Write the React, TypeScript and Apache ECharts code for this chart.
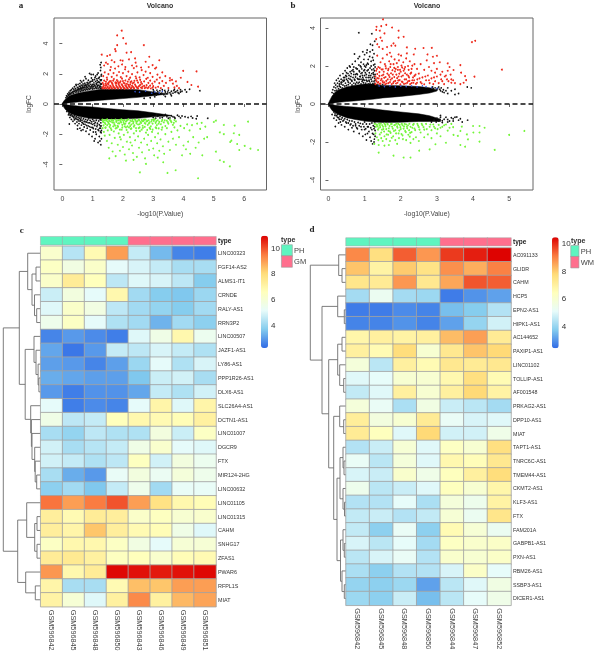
import React, { useEffect, useRef } from "react";
import * as echarts from "echarts";

const FONT = "'Liberation Sans', Arial, sans-serif";
const NARROW = "'Liberation Sans Narrow', 'Liberation Sans', Arial, sans-serif";

// ---- Volcano a ----
const aWedgeUp = [[0,.05,-.03],[.05,.2,.02],[.1,.32,.04],[.2,.5,.07],[.3,.6,.09],[.5,.72,.13],[.7,.8,.16],[1,.9,.2],[1.3,.98,.25],[1.6,.98,.3],[2,.98,.36],[2.5,.95,.44],[3,.8,.55],[3.3,.72,.62],[3.5,.68,.66]];
const aWedgeDown = [[0,-.05,.03],[.05,-.22,-.02],[.1,-.36,-.04],[.2,-.54,-.07],[.3,-.66,-.09],[.5,-.8,-.13],[.7,-.88,-.16],[1,-.98,-.2],[1.3,-1,-.26],[1.6,-1,-.32],[2,-1,-.38],[2.5,-.95,-.45],[3,-.85,-.58],[3.4,-.8,-.7],[3.6,-.8,-.76]];
const aBlack = [.12,.42,.14,.55,.16,.48,.18,.68,.2,.58,.22,.78,.24,.62,.26,.88,.28,.72,.3,.95,.32,.78,.34,1.05,.36,.85,.38,.98,.4,1.15,.42,.88,.44,1.02,.46,1.22,.48,.92,.5,1.1,.52,1.3,.54,.98,.56,1.18,.58,1.36,.6,1.02,.62,1.25,.64,1.46,.66,1.08,.68,1.32,.7,1.56,.72,1.12,.74,1.38,.76,1.22,.78,1.68,.8,1.15,.82,1.42,.84,1.28,.86,1.58,.88,1.18,.9,2.02,.92,1.48,.94,1.3,.96,1.72,.98,1.2,1,1.52,1.02,1.95,1.04,1.28,1.06,1.62,1.08,1.18,1.1,1.85,1.12,1.38,1.14,1.68,1.16,1.22,1.18,2.05,1.2,1.48,1.22,1.78,1.24,1.2,1.26,2.22,1.27,1.55,1.28,2.75,1.29,1.95,1.25,2.6,1.27,2.42,1.29,1.32,1.15,1.95,.95,1.95,.75,1.8,.6,1.55,.45,1.3,
3,.95,3.1,.6,3.15,.82,3.2,.7,3.3,.95,3.35,.62,3.4,.8,3.45,.68,3.5,.92,3.55,.75,3.6,.85,3.65,.72,3.7,.98,3.75,.82,3.8,.9,3.85,.7,3.9,.95,3.95,.85,4.05,.95,4.1,.8,4.2,.98,4.54,.88,3.4,.5,3.6,.55,3.05,.48,2.9,.42,2.7,.38,
.15,-.5,.2,-.72,.22,-.6,.25,-.9,.28,-.75,.3,-1.02,.33,-.82,.35,-1.15,.38,-.92,.4,-1.05,.42,-1.3,.45,-.98,.48,-1.2,.5,-1.42,.52,-1.05,.55,-1.3,.58,-1.6,.6,-1.12,.63,-1.4,.65,-1.22,.68,-1.7,.7,-1.32,.72,-1.52,.75,-1.18,.78,-1.8,.8,-1.42,.82,-1.6,.85,-1.25,.88,-2,.9,-1.5,.92,-1.72,.95,-1.3,.98,-2.15,1,-1.55,1.02,-1.85,1.05,-1.3,1.08,-2.3,1.1,-1.65,1.12,-2,1.15,-1.4,1.18,-2.55,1.2,-1.75,1.22,-2.15,1.25,-1.45,1.27,-2.7,1.28,-1.9,1.29,-2.3,1.26,-1.6,1.24,-2.45,1.05,-2.45,.62,-1.75,.5,-1.65,.23,-1.32,
3.1,-.75,3.3,-.9,3.4,-.7,3.5,-.95,3.6,-.78,3.7,-.88,3.8,-.75,3.9,-.92,4.05,-.85,4.15,-.9,4.25,-.82,4.42,-.98,4.45,-.8,4.3,-.93,4.8,-.95,3.95,-.8];
const aBlackDense = [.2,.62,.25,.7,.28,.66,.32,.74,.35,.8,.37,.7,.4,.82,.43,.92,.45,.78,.47,.86,.5,.95,.52,.8,.53,1.05,.55,.88,.57,1,.6,.85,.6,1.12,.62,.95,.63,1.05,.65,.88,.66,1.2,.68,1,.7,.9,.7,1.1,.72,1.25,.74,.98,.75,1.08,.77,.92,.78,1.3,.8,1,.8,1.2,.82,1.1,.84,.95,.85,1.38,.87,1.05,.88,1.25,.9,.98,.9,1.4,.92,1.12,.94,1.02,.95,1.5,.96,1.2,.98,1.08,1,1,1,1.3,1,1.6,1.02,1.15,1.04,1.4,1.05,1.02,1.07,1.25,1.08,1.75,1.1,1.1,1.1,1.5,1.12,1.05,1.13,1.3,1.15,1.15,1.15,1.55,1.17,1.42,1.18,1.05,1.2,1.25,1.2,1.7,1.22,1.12,1.23,1.42,1.25,1.05,1.25,1.6,1.26,1.32,1.27,1.15,1.28,1.85,1.29,1.05,1.29,1.6,
.22,-.66,.26,-.74,.3,-.7,.34,-.8,.37,-.86,.4,-.78,.43,-.95,.46,-.85,.49,-1.02,.52,-.9,.55,-1.12,.57,-.95,.6,-1.02,.62,-.92,.65,-1.08,.67,-1.25,.7,-.98,.72,-1.15,.75,-1.35,.77,-1.02,.8,-1.2,.83,-1.08,.85,-1.45,.87,-.98,.9,-1.25,.92,-1.1,.95,-1.55,.97,-1.18,1,-1.02,1,-1.35,1.02,-1.62,1.04,-1.12,1.07,-1.42,1.09,-1.22,1.1,-1.85,1.12,-1.08,1.14,-1.5,1.16,-1.28,1.18,-1.7,1.2,-1.12,1.22,-1.38,1.23,-1.6,1.25,-1.05,1.26,-1.85,1.27,-1.25,1.28,-1.45,1.29,-1.05,1.29,-1.75,
3.02,.85,3.12,.92,3.22,.88,3.28,.72,3.38,.9,3.48,.8,3.58,.65,3.68,.9,3.72,.78,3.82,.75,3.9,.8,
3,-.9,3.08,-.95,3.15,-.82,3.22,-.92,3.35,-.78,3.45,-.85,3.55,-.92,3.65,-.85,3.72,-.95,3.85,-.82];
const aRed = [1.96,4.86,1.81,4.55,2.01,4.37,2.1,4,1.81,3.9,2.69,3.9,1.74,3.64,1.76,3.5,2.27,3.44,2.12,3.4,2.87,3.13,1.3,3.27,1.57,3.25,1.48,3.18,1.92,2.9,1.99,2.87,2.4,3.02,2.2,2.96,3.2,2.9,2.75,2.8,1.63,2.9,1.44,2.74,2.42,2.74,2.98,2.58,3.99,2.2,4.43,2.16,3.91,1.74,4.13,1.46,4.26,1.26,4.48,1.15,
1.32,1.05,1.36,1.18,1.41,1.08,1.45,1.25,1.5,1.1,1.54,1.02,1.58,1.2,1.62,1.06,1.66,1.28,1.7,1.12,1.74,1.03,1.78,1.22,1.82,1.09,1.86,1.31,1.9,1.14,1.94,1.04,1.98,1.24,2.02,1.1,2.06,1.02,2.1,1.19,2.14,1.07,2.18,1.27,2.22,1.13,2.26,1.03,2.3,1.2,2.35,1.08,2.4,1.29,2.45,1.12,2.5,1.04,2.55,1.22,2.6,1.09,2.65,1.16,2.72,1.05,2.78,1.25,2.85,1.12,2.92,1.03,3,1.18,3.08,1.08,3.16,1.14,3.25,1.05,3.35,1.2,3.5,1.06,3.7,1.1,3.85,1.05,
1.33,1.4,1.38,1.55,1.43,1.35,1.48,1.62,1.53,1.42,1.6,1.52,1.65,1.36,1.7,1.66,1.75,1.44,1.8,1.58,1.85,1.38,1.92,1.5,1.97,1.68,2.03,1.4,2.08,1.56,2.13,1.33,2.2,1.63,2.25,1.45,2.32,1.37,2.38,1.54,2.44,1.7,2.5,1.42,2.57,1.6,2.63,1.34,2.7,1.5,2.77,1.67,2.84,1.4,2.9,1.55,2.97,1.35,3.05,1.48,3.12,1.62,3.2,1.38,3.3,1.52,3.42,1.4,3.55,1.56,3.65,1.35,3.75,1.5,3.78,1.2,3.62,1.6,
1.35,1.85,1.4,2.1,1.47,1.75,1.52,1.98,1.58,2.25,1.63,1.8,1.69,2.05,1.74,2.35,1.8,1.9,1.87,2.12,1.93,1.78,2,2.05,2.07,2.3,2.12,1.85,2.18,2.15,2.24,1.75,2.3,1.98,2.36,2.38,2.42,1.82,2.48,2.1,2.55,1.76,2.62,2.25,2.68,1.92,2.75,2.15,2.82,1.74,2.9,2.05,2.98,1.8,3.06,2.35,3.14,1.95,3.22,1.75,3.3,2.1,3.4,1.85,3.55,1.72,
1.38,2.55,1.5,2.65,1.6,2.45,1.72,2.78,1.85,2.5,1.97,2.62,2.08,2.45,2.3,2.55,2.45,2.5,2.6,2.42,2.85,2.45,3.1,2.42,
1.34,1.12,1.38,1.03,1.42,1.22,1.46,1.04,1.49,1.16,1.52,1.3,1.56,1.08,1.6,1.16,1.64,1.03,1.68,1.18,1.72,1.06,1.76,1.34,1.8,1.14,1.84,1.04,1.88,1.2,1.92,1.08,1.96,1.3,2,1.16,2.04,1.04,2.08,1.24,2.12,1.12,2.16,1.03,2.2,1.18,2.24,1.3,2.28,1.07,2.33,1.14,2.37,1.03,2.42,1.2,2.47,1.07,2.52,1.16,2.58,1.28,2.63,1.05,2.7,1.2,2.76,1.1,2.82,1.05,2.9,1.22,2.98,1.08,
1.36,1.3,1.44,1.48,1.5,1.36,1.56,1.5,1.63,1.42,1.68,1.55,1.78,1.4,1.83,1.5,1.9,1.42,2,1.52,2.06,1.36,2.16,1.48,2.28,1.5,2.36,1.42,2.47,1.55,2.6,1.45];
const aGreen = [4.48,-4.92,2.56,-4.53,3.47,-4.57,3.74,-4.39,2.76,-3.97,3.33,-3.86,5.53,-4.13,5.33,-3.84,5.2,-3.73,6.46,-3.05,6.21,-2.96,6.02,-2.78,5.77,-2.65,5.84,-3.05,5.58,-2.43,5.54,-2.52,5.66,-1.94,5.84,-2.05,5.69,-1.43,6.13,-1.17,5.33,-2,5.2,-1.88,5.33,-1.39,5.07,-1.1,5,-1.19,5.07,-3.16,
1.32,-1.04,1.35,-1.2,1.38,-1.08,1.42,-1.32,1.45,-1.1,1.48,-1.02,1.52,-1.25,1.55,-1.12,1.58,-1.4,1.62,-1.05,1.65,-1.22,1.68,-1.1,1.72,-1.35,1.75,-1.03,1.78,-1.18,1.82,-1.45,1.85,-1.08,1.88,-1.28,1.92,-1.14,1.95,-1.02,1.98,-1.38,2.02,-1.2,2.05,-1.06,2.08,-1.3,2.12,-1.12,2.15,-1.48,2.18,-1.02,2.22,-1.24,2.25,-1.1,2.28,-1.36,2.32,-1.05,2.35,-1.18,2.38,-1.42,2.42,-1.08,2.45,-1.28,2.48,-1.14,2.52,-1.04,2.55,-1.34,2.58,-1.2,2.62,-1.06,2.65,-1.44,2.68,-1.12,2.72,-1.26,2.75,-1.03,2.78,-1.16,2.82,-1.38,2.85,-1.08,2.88,-1.22,2.92,-1.48,2.95,-1.05,2.98,-1.3,3.02,-1.12,3.05,-1.02,3.08,-1.25,3.12,-1.4,3.15,-1.08,3.2,-1.18,3.25,-1.34,3.3,-1.05,3.35,-1.22,3.4,-1.46,3.45,-1.1,3.5,-1.3,3.55,-1.04,3.6,-1.2,3.65,-1.38,3.7,-1.06,3.75,-1.15,
1.33,-1.6,1.37,-1.85,1.4,-2.1,1.43,-1.55,1.47,-2.45,1.5,-1.75,1.53,-2.9,1.56,-2.05,1.6,-1.62,1.63,-2.6,1.66,-3.15,1.7,-1.82,1.73,-2.25,1.76,-3.45,1.8,-1.58,1.83,-2.7,1.86,-1.95,1.9,-3.1,1.93,-2.35,1.96,-1.7,2,-2.85,2.03,-2.05,2.06,-3.35,2.1,-1.55,2.13,-2.5,2.16,-1.88,2.2,-3,2.23,-2.2,2.26,-1.65,2.3,-2.75,2.33,-3.25,2.36,-1.95,2.4,-2.4,2.43,-1.6,2.46,-3.5,2.5,-2.15,2.53,-2.9,2.56,-1.8,2.6,-2.55,2.63,-3.2,2.66,-1.58,2.7,-2.3,2.73,-3.6,2.76,-1.9,2.8,-2.7,2.83,-2.05,2.86,-3.05,2.9,-1.65,2.93,-2.45,2.96,-1.85,3,-2.95,3.03,-3.4,3.06,-2.2,3.1,-1.6,3.13,-2.6,3.16,-1.95,3.2,-3.1,3.24,-2.35,3.28,-1.7,3.32,-2.8,3.36,-3.3,3.4,-2,3.45,-1.6,3.5,-2.5,3.55,-3.05,3.6,-1.85,3.65,-2.3,3.7,-1.55,3.75,-2.7,3.8,-1.75,3.85,-2.2,3.9,-1.45,3.95,-3.4,4,-2.75,4.02,-1.6,4.08,-3,4.12,-1.35,4.15,-2.5,4.2,-1.75,4.22,-3.3,4.28,-1.4,4.32,-2.2,4.4,-2.9,4.45,-1.3,4.5,-2.55,4.55,-1.65,4.62,-3.4,4.68,-2.3,4.72,-1.5,4.78,-2.2,4.6,-1.25,1.55,-3.6,2.1,-3.75,2.35,-3.7,3.15,-3.55,2.55,-1.55,2.25,-2.55,1.9,-2.2,
1.34,-1.14,1.4,-1.24,1.44,-1.05,1.5,-1.16,1.54,-1.32,1.6,-1.16,1.64,-1.06,1.7,-1.24,1.74,-1.44,1.8,-1.1,1.84,-1.28,1.9,-1.05,1.94,-1.22,2,-1.08,2.04,-1.32,2.1,-1.16,2.14,-1.06,2.2,-1.3,2.24,-1.46,2.3,-1.14,2.34,-1.28,2.4,-1.04,2.44,-1.18,2.5,-1.36,2.54,-1.08,2.6,-1.26,2.64,-1.14,2.7,-1.04,2.74,-1.3,2.8,-1.12,2.86,-1.28,2.94,-1.16,3,-1.04,3.1,-1.14,3.18,-1.3,3.28,-1.14,3.38,-1.08,3.48,-1.2,3.58,-1.12,3.68,-1.25,
1.36,-1.42,1.42,-1.58,1.48,-1.4,1.56,-1.52,1.62,-1.72,1.68,-1.48,1.76,-1.62,1.84,-1.5,1.9,-1.7,1.98,-1.55,2.06,-1.48,2.12,-1.72,2.2,-1.55,2.28,-1.62,2.36,-1.5,2.44,-1.78,2.52,-1.6,2.62,-1.7,2.72,-1.52,2.8,-1.72,2.88,-1.58,2.98,-1.7,3.08,-1.55,3.18,-1.62,3.3,-1.55];
const aBlue = [2.4,.82,2.55,.78,2.75,.86,2.95,.72,3.05,.8,3.2,.74,3.3,.84];

// ---- Volcano b ----
const bWedgeUp = [[0,.04,-.02],[.05,.24,.02],[.1,.42,.04],[.2,.64,.07],[.3,.76,.09],[.5,.9,.13],[.7,.98,.16],[1,1.05,.21],[1.27,1.05,.26],[1.5,.98,.32],[2,.96,.4],[2.5,.92,.5],[2.8,.85,.58],[3,.74,.68]];
const bWedgeDown = [[0,-.04,.02],[.05,-.2,-.02],[.1,-.34,-.04],[.2,-.48,-.07],[.3,-.58,-.09],[.5,-.72,-.13],[.7,-.8,-.16],[1,-.9,-.21],[1.27,-.95,-.26],[1.5,-.98,-.32],[2,-.96,-.42],[2.5,-.92,-.52],[2.8,-.92,-.62],[3.1,-.92,-.8]];
const bBlack = [.1,.6,.12,.75,.15,.9,.17,1.1,.2,1,.22,1.25,.25,1.1,.27,1.35,.3,1.2,.32,1.5,.35,1.3,.37,1.15,.4,1.6,.42,1.4,.44,1.25,.46,1.75,.48,1.5,.5,1.3,.52,1.9,.54,1.6,.56,1.35,.58,2,.6,1.7,.62,1.45,.64,1.25,.66,2.1,.68,1.8,.7,1.55,.72,2.63,.72,1.3,.74,2.25,.76,1.9,.78,1.6,.8,1.35,.82,2.4,.84,3.75,.84,2.05,.86,2.5,.86,1.7,.88,1.45,.9,2.2,.92,1.85,.94,1.5,.95,2.75,.96,1.3,.98,2.35,1,2,1.02,1.65,1.04,1.4,1.06,2.7,1.07,2.84,1.08,2.15,1.1,1.8,1.12,1.5,1.14,2.5,1.16,3.15,1.18,2,1.2,3.7,1.2,1.6,1.22,2.85,1.24,2.3,1.25,1.85,1.26,2.65,1.27,1.45,1.28,2.1,1.15,2.75,1.22,2.45,1,2.6,.9,1.6,.75,1.55,.65,1.75,.55,1.15,.45,1.4,.35,1.05,.3,.95,1.05,1.25,1.1,2.35,.95,1.25,.85,1.3,1.29,1.25,1.18,1.3,1.12,1.25,1.28,3.3,1.22,3.1,.98,1.75,.7,1.95,.6,1.95,.5,1.65,.4,1.25,.88,2,.8,1.85,1.05,2.05,1.15,1.4,1.25,1.55,
2.9,.8,3,.75,3.05,.9,3.1,.7,3.15,.65,3.2,.6,3.3,.55,3.4,.7,3.5,.5,3.6,.55,3.84,.9,3.95,.85,3.5,.78,3.3,.85,
.1,-.55,.15,-.75,.18,-.6,.19,-1.19,.22,-.85,.25,-.7,.28,-1,.3,-.8,.33,-.95,.36,-1.1,.4,-.9,.45,-1.2,.5,-1,.55,-1.35,.6,-1.1,.65,-1.25,.7,-1.45,.75,-1.15,.8,-1.3,.85,-1.55,.9,-1.2,.95,-1.7,1,-1.35,1.05,-1.9,1.08,-1.55,1.1,-1.2,1.15,-1.75,1.2,-1.35,1.22,-2.1,1.25,-1.6,1.27,-1.85,1.28,-1.2,1.18,-1.95,1.02,-1.6,1.26,-2,1.29,-1.4,
3,-.75,3.05,-.9,3.1,-.7,3.2,-.8,3.3,-.95,3.4,-.72,3.45,-.9,3.55,-.68,3.6,-.85,3.7,-.95,3.85,-.85,3.1,-.6,3.15,-.98];
const bBlackDense = [.15,.55,.18,.7,.2,.85,.23,.72,.25,.92,.28,.8,.3,1.05,.33,.9,.35,1.15,.38,.85,.4,1,.42,1.2,.45,.95,.47,1.1,.5,1.45,.5,.98,.53,1.22,.55,1.02,.57,1.5,.6,1.1,.6,1.3,.63,1.6,.65,1,.65,1.2,.68,1.4,.7,1.1,.7,1.7,.73,1.25,.75,1.05,.75,1.42,.78,1.15,.78,1.85,.8,1.55,.82,1.1,.82,1.3,.85,1.75,.85,1.15,.87,1.45,.9,1.05,.9,1.3,.9,1.95,.93,1.65,.93,1.18,.95,1.4,.97,1.12,.97,2.1,1,1.25,1,1.5,1,1.8,1.03,1.1,1.03,1.95,1.05,1.55,1.07,1.2,1.07,1.75,1.1,1.4,1.1,1.05,1.1,2.1,1.13,1.65,1.13,1.2,1.15,1.9,1.15,1.1,1.17,1.5,1.18,2.25,1.2,1.2,1.2,1.8,1.22,1.4,1.23,1.08,1.24,1.65,1.25,2.05,1.26,1.2,1.27,1.75,1.28,1.35,1.28,1.1,1.29,1.55,1.29,1.95,
.15,-.42,.18,-.52,.22,-.62,.25,-.55,.28,-.72,.32,-.65,.35,-.8,.38,-.72,.42,-.85,.45,-.78,.48,-.95,.52,-.82,.55,-1,.58,-.88,.62,-1.05,.65,-.9,.68,-1.15,.72,-.95,.75,-1.05,.78,-1.25,.82,-.98,.85,-1.15,.88,-1.02,.92,-1.35,.95,-1.05,.98,-1.2,1,-.95,1.03,-1.3,1.05,-1.05,1.08,-1.2,1.12,-1.45,1.14,-1.05,1.17,-1.25,1.2,-1,1.22,-1.55,1.24,-1.15,1.26,-1.3,1.28,-1,1.29,-1.7,
1.35,.98,1.5,1.02,2.88,.9,2.95,.85,3.02,.82,3.08,.78,3.12,.85,3.18,.75,3.25,.7,
2.85,-.95,2.92,-.85,2.98,-.95,3.08,-.82,3.15,-.88,3.25,-.7,3.3,-.82,3.35,-.9,3.45,-.78,3.5,-.7,3.65,-.78];
const bRed = [1.51,4.46,1.6,4.17,1.76,4.03,1.33,4.07,1.46,4.1,1.94,3.86,1.32,3.9,1.42,3.86,1.55,3.72,2.08,3.54,1.94,3.5,1.44,3.5,1.32,3.42,1.48,3.33,1.8,3.19,1.74,3.07,1.85,3.07,3.97,3.26,4.06,3.33,4.8,1.81,2.86,2.96,2.63,2.95,2.4,2.91,2.17,2.98,2.74,2.61,3,2.54,2.89,2.49,2.36,2.61,2.17,2.67,1.94,2.61,3.3,2.14,3.65,2.05,3.46,1.79,3.67,1.65,3.78,1.47,4.04,1.44,3.81,1.26,3.74,1.12,3.65,1.05,
1.3,1.05,1.33,1.2,1.36,1.12,1.39,1.35,1.42,1.06,1.45,1.25,1.48,1.5,1.51,1.12,1.54,1.38,1.57,1.04,1.6,1.22,1.63,1.6,1.66,1.1,1.69,1.42,1.72,1.28,1.75,1.05,1.78,1.55,1.81,1.18,1.84,1.72,1.87,1.08,1.9,1.36,1.93,1.24,1.96,1.6,1.99,1.03,2.02,1.45,2.05,1.15,2.08,1.75,2.11,1.3,2.14,1.08,2.17,1.55,2.2,1.2,2.23,1.4,2.26,1.05,2.29,1.65,2.32,1.25,2.35,1.12,2.38,1.48,2.42,1.06,2.46,1.3,2.5,1.6,2.55,1.15,2.6,1.4,2.65,1.04,2.7,1.25,2.75,1.5,2.8,1.1,2.85,1.35,2.9,1.05,2.95,1.2,3,1.45,3.05,1.1,3.12,1.3,3.2,1.05,3.25,1.5,3.32,1.2,3.4,1.3,3.45,1.25,3.5,1.1,
1.3,1.45,1.32,1.75,1.35,1.58,1.38,1.95,1.41,1.68,1.44,2.2,1.47,1.82,1.5,2.4,1.53,1.7,1.56,2.1,1.59,1.88,1.62,2.6,1.65,1.78,1.68,2.25,1.71,1.95,1.74,2.5,1.77,1.78,1.8,2.1,1.83,2.35,1.86,1.85,1.89,2.15,1.92,1.95,1.95,2.3,1.98,1.8,2.01,2.55,2.04,1.92,2.07,2.2,2.1,1.85,2.15,2.4,2.2,2,2.25,2.25,2.3,1.85,2.38,2.1,2.45,1.85,2.55,2.1,2.65,1.8,2.72,2.3,2.78,1.95,2.85,1.75,2.92,2.15,3,1.85,3.08,2.2,3.15,1.7,3.22,1.45,3.3,1.75,3.38,1.55,3.35,1.95,3.1,1.55,2.95,1.65,1.35,2.55,1.4,3,1.5,2.9,1.62,3,1.35,3.15,1.7,2.7,
1.31,1.28,1.35,1.36,1.38,1.15,1.41,1.48,1.44,1.08,1.47,1.32,1.5,1.2,1.52,1.55,1.55,1.14,1.58,1.42,1.61,1.08,1.64,1.3,1.67,1.52,1.7,1.15,1.73,1.62,1.76,1.35,1.79,1.1,1.82,1.42,1.85,1.22,1.88,1.55,1.91,1.12,1.94,1.45,1.97,1.26,2,1.7,2.03,1.18,2.06,1.5,2.09,1.06,2.12,1.62,2.15,1.3,2.18,1.12,2.21,1.48,2.24,1.22,2.27,1.6,2.3,1.1,2.34,1.4,2.37,1.25,2.41,1.55,2.45,1.12,2.52,1.35,2.58,1.08,2.68,1.45,2.78,1.25,2.92,1.4,3.15,1.2,3.28,1.3,3.4,1.12,
1.34,1.85,1.42,1.9,1.5,1.82,1.58,2,1.66,1.85,1.72,2.1,1.82,1.9,1.92,1.8,2.02,2.02,2.12,1.95,2.22,1.8,2.32,2.02];
const bGreen = [5.42,-1.42,5,-1.63,4.6,-2.42,4.32,-1.25,4.18,-1.16,4,-1.16,4.18,-1.5,4.18,-1.98,3.78,-2.25,3.65,-2.16,3.83,-1.6,3.86,-1.86,4.01,-1.5,3.69,-1.19,3.65,-1.42,3.46,-1.63,3.58,-1.68,3.25,-2.04,2.96,-2.12,2.8,-2.39,2.51,-2.46,2.27,-2.82,2.08,-2.82,1.8,-2.72,1.39,-2.56,1.39,-2.16,1.55,-2.19,1.67,-2.16,1.27,-2.1,1.9,-2.1,2.27,-2.05,
1.28,-1.05,1.31,-1.2,1.34,-1.1,1.37,-1.35,1.4,-1.04,1.43,-1.22,1.46,-1.5,1.49,-1.12,1.52,-1.32,1.55,-1.03,1.58,-1.18,1.61,-1.6,1.64,-1.08,1.67,-1.28,1.7,-1.45,1.73,-1.06,1.76,-1.2,1.79,-1.7,1.82,-1.12,1.85,-1.38,1.88,-1.04,1.91,-1.25,1.94,-1.55,1.97,-1.1,2,-1.32,2.03,-1.05,2.06,-1.85,2.09,-1.18,2.12,-1.42,2.15,-1.08,2.18,-1.28,2.21,-1.62,2.24,-1.04,2.27,-1.2,2.3,-1.48,2.34,-1.1,2.38,-1.3,2.42,-1.75,2.46,-1.05,2.5,-1.22,2.55,-1.5,2.6,-1.12,2.65,-1.35,2.7,-1.05,2.75,-1.6,2.8,-1.2,2.85,-1.38,2.9,-1.08,2.95,-1.28,3,-1.55,3.05,-1.1,3.1,-1.25,3.2,-1.12,3.3,-1.4,3.4,-1.05,3.45,-1.22,
1.3,-1.55,1.34,-1.75,1.38,-1.9,1.42,-1.6,1.46,-1.8,1.5,-1.95,1.55,-1.7,1.6,-1.85,1.65,-1.62,1.7,-1.95,1.75,-1.78,1.85,-1.9,1.95,-1.8,2.05,-1.65,2.15,-1.9,2.25,-1.72,2.35,-1.85,2.5,-1.95,2.65,-1.75,2.85,-1.8,3.1,-1.7,
1.33,-1.08,1.36,-1.18,1.39,-1.28,1.42,-1.12,1.45,-1.04,1.48,-1.35,1.51,-1.2,1.54,-1.45,1.57,-1.1,1.6,-1.32,1.63,-1.04,1.66,-1.42,1.69,-1.16,1.72,-1.52,1.75,-1.05,1.78,-1.3,1.81,-1.42,1.84,-1.1,1.87,-1.55,1.9,-1.18,1.93,-1.05,1.96,-1.4,1.99,-1.22,2.02,-1.58,2.05,-1.12,2.08,-1.3,2.11,-1.05,2.14,-1.48,2.17,-1.2,2.2,-1.12,2.23,-1.38,2.26,-1.52,2.32,-1.25,2.36,-1.05,2.4,-1.38,2.48,-1.14,2.52,-1.35,2.58,-1.05,2.63,-1.22,2.72,-1.32,2.82,-1.08,2.92,-1.2,3.02,-1.32,3.15,-1.2,3.25,-1.08,3.35,-1.25];
const bBlue = [1.4,.95,1.55,.92,1.7,.96,1.85,.9,2,.94,2.15,.92,2.3,.95,2.45,.9,2.6,.96,2.7,.92,2.85,.88,3,.82];

const yTicksA = [-4, -2, 0, 2, 4];
const yTicksB = [-4, -2, 0, 2, 4];
const xTicksA = [0, 1, 2, 3, 4, 5, 6];
const xTicksB = [0, 1, 2, 3, 4, 5];

// ---- Heatmap c ----
const cRows = ["LINC00323","FGF14-AS2","ALMS1-IT1","CRNDE","RALY-AS1","RRN3P2","LINC00507","JAZF1-AS1","LY86-AS1","PPP1R26-AS1","DLX6-AS1","SLC26A4-AS1","DCTN1-AS1","LINC01007","DGCR9","FTX","MIR124-2HG","LINC00632","LINC01105","LINC01315","CAHM","SNHG17","ZFAS1","PWAR6","RFPL1S","MIAT"];
const cCols = ["GSM596842","GSM596845","GSM596848","GSM596850","GSM596843","GSM596846","GSM596849","GSM596851"];
const cGroups = [0, 0, 0, 0, 1, 1, 1, 1];
const cValues = [
[6.2,4.4,6.8,9,4.6,3.4,2.6,2.5],
[6.4,5.7,6.3,5.1,4.9,4.6,4.2,4.2],
[6.3,7.4,6.6,4.5,5,4.9,4.5,3.7],
[4.7,5.8,5.1,6.9,4.1,3.7,3.6,4],
[5,6.3,5.7,4.5,4.1,3.9,3.7,4.1],
[5.5,6.4,5.1,4.3,4.1,3.3,4.1,3.8],
[2.6,2.9,2.7,2.5,5,5.6,6.9,5.4],
[3.1,2.4,2.9,4.6,4.5,4.9,4.6,4.3],
[3,2.9,2.6,3,4,5.1,4.3,4.9],
[3.2,3.1,3,3,3.6,4.7,4.8,4.2],
[2.9,2.5,2.8,2.8,3.1,4.6,4.3,4.8],
[5.1,2.5,2.7,2.6,5.1,7,5,7],
[5.6,4.5,4.6,6.6,6.9,6.8,6.7,7.2],
[4.2,3.9,4.5,4.3,4.3,5.8,4.7,6.4],
[4.8,4.2,4.4,4.6,5.6,6.2,5.1,5],
[4.8,4.6,4.3,4.5,6.5,4.8,5.8,5.4],
[4.2,3.2,2.9,5.2,5.8,5.3,5.9,5.5],
[3.8,4.1,3.6,4.6,5.5,4.1,5.2,5.2],
[9.6,9,9.5,10,9,7.8,6.9,6.7],
[7.3,6.8,7.4,7.3,6.3,6.5,6.1,6.2],
[7.3,7,8.4,7.3,6.8,6.7,5.6,5],
[6.4,6.9,6.9,6.4,5.7,5.1,6,6],
[7.4,7.5,7.2,6.5,6.6,6.2,6.7,6.8],
[9.1,6.9,7.4,10.9,10.8,10.7,10.8,10.9],
[7,4.2,4.2,6.8,8.5,8.4,9,9],
[7.1,6,5,7.2,9.3,7.2,8.6,8.9],
];
const cTree: any = [37.4,
  [21.4,
    [13, 0, [8.7, [4.7, 1, 2], [6.2, 3, [4, 4, 5]]]],
    [15.5,
      [6.7, 6, [4.7, 7, [2.6, 8, [1.8, 9, 10]]]],
      [10, 11, [9.3, 12, [8.7, 13, [6, 14, [5.5, 15, [4, 16, 17]]]]]]]],
  [23,
    [14, 18, [6, [3.7, 19, 20], [3.7, 21, 22]]],
    [15, 23, [5.4, 24, 25]]]];

// ---- Heatmap d ----
const dRows = ["AC091133","GLIDR","CAHM","HCP5","EPN2-AS1","HIPK1-AS1","AC144652","PAXIP1-AS1","LINC01102","TOLLIP-AS1","AF001548","PRKAG2-AS1","DPP10-AS1","MIAT","TAPT1-AS1","TNRC6C-AS1","TMEM44-AS1","CKMT2-AS1","KLF3-AS1","FTX","FAM201A","GABPB1-AS1","PXN-AS1","RBM26-AS1","SSBP3-AS1","DICER1-AS1"];
const dCols = ["GSM596842","GSM596845","GSM596848","GSM596850","GSM596844","GSM596847","GSM596852"];
const dGroups = [0, 0, 0, 0, 1, 1, 1];
const dValues = [
[8.9,7.6,9.4,8.7,9.8,10.1,10.4],
[8.1,6.9,8,7.5,8.8,8.4,9],
[7.4,7.2,8.7,7.3,8.5,9.5,9.4],
[4.2,5.3,4.2,4.1,2.7,3,3.2],
[2.7,2.7,2.9,2.8,3.6,3.8,4.4],
[2.8,2.8,3,2.8,3.2,4,4.8],
[6.8,7,6.9,7,8.2,8.6,7.2],
[7,6.6,7.7,6,7.3,8.1,7.8],
[5.8,4.5,7,6.6,7.3,7.2,7.3],
[5,5.1,6,6,6.7,7.6,6.6],
[4.6,5,7,6,7,7.8,6.9],
[5.8,5.2,4.3,5.6,4.7,4.5,4.2],
[7.1,5.7,6,7.2,5.2,4.9,5],
[7.2,6.4,5,7.8,4.8,4.8,5.5],
[4.4,4.7,5.9,5,6.3,6,7.6],
[5.2,4.5,5.8,5,6.7,6.5,7.3],
[4.9,4.7,6.1,5.5,6.4,7,7.7],
[5.4,4.5,4.7,5,6.4,6,6.8],
[4.4,4.4,5.1,4.3,5.8,5.4,6.9],
[4.6,4.7,4.4,4.6,5.9,5.3,7.4],
[4.6,3.9,5.2,3.9,6.6,5.9,5.3],
[4.9,4.5,5.1,4.2,6.3,6.1,6.2],
[4.5,4.9,5.2,4.4,6.1,6,6.2],
[4.3,3.9,4.4,4.4,4.9,6.2,5.1],
[4,3.9,4.1,3.2,4.5,5,5.6],
[4.1,3.9,4.7,3.6,4.5,5.1,5.5],
];
const dTree: any = [35.7,
  [7.3, 0, [4, 1, 2]],
  [24,
    [8.3, 3, [1.7, 4, 5]],
    [17.3,
      [8.3, [4, 6, 7], [6.3, 8, [2.3, 9, 10]]],
      [12.3,
        [6.3, 11, [2.3, 12, 13]],
        [9,
          [6, [3, 14, [2, 15, 16]], [3, 17, [1.5, 18, 19]]],
          [5.5, [3, 20, [1.7, 21, 22]], [4, 23, [1.7, 24, 25]]]]]]]];

const heatTicks = [4, 6, 8, 10];
const heatColors = ["#2f6ae6", "#84ccee", "#e8fcfa", "#ffffbc", "#ffdc78", "#fa7a40", "#dd0000"];
const typeColors = ["#5ff5c0", "#ff6f8e"];
const cTypes = ["PH", "GM"];
const dTypes = ["PH", "WM"];

const pairs = (f: number[]) => {
  const o: number[][] = [];
  for (let i = 0; i + 1 < f.length; i += 2) o.push([f[i], f[i + 1]]);
  return o;
};

function treeSegments(tree: any) {
  const out: number[][] = [];
  const walk = (n: any): [number, number] => {
    if (typeof n === "number") return [0, n + 0.5];
    const [h, a, b] = n;
    const [ha, ya] = walk(a);
    const [hb, yb] = walk(b);
    out.push([h, ya, ha, yb, hb]);
    return [h, (ya + yb) / 2];
  };
  walk(tree);
  return out;
}

function buildOption() {
  const grid: any[] = [], xAxis: any[] = [], yAxis: any[] = [], series: any[] = [], visualMap: any[] = [];
  const addGrid = (rect: any, x: any, y: any) => {
    const i = grid.length;
    grid.push({ ...rect, containLabel: false, show: !!rect.show });
    xAxis.push({ ...x, gridIndex: i });
    yAxis.push({ ...y, gridIndex: i });
    return i;
  };
  const off = { show: false };
  const axText = { fontFamily: FONT, fontSize: 7, color: "#444" };

  const volcano = (
    r: any, xr: number[], yr: number[], xT: number[], yT: number[], wedges: any[][],
    black: number[], blue: number[], red: number[], green: number[], yGap: number,
  ) => {
    const g = addGrid(
      { ...r, show: true, borderColor: "#666", borderWidth: 1, backgroundColor: "#fff" },
      {
        type: "value", min: xr[0], max: xr[1], splitLine: off, axisLine: off,
        axisTick: { show: true, length: 3, lineStyle: { color: "#666" }, customValues: xT },
        axisLabel: { ...axText, margin: 5, customValues: xT, showMinLabel: true, showMaxLabel: true },
        name: "-log10(P.Value)", nameLocation: "middle", nameGap: 20,
        nameTextStyle: { fontFamily: FONT, fontSize: 6.8, color: "#444" },
      },
      {
        type: "value", min: yr[0], max: yr[1], splitLine: off, axisLine: off,
        axisTick: { show: true, length: 3, lineStyle: { color: "#666" }, customValues: yT },
        axisLabel: { ...axText, margin: 5, rotate: 90, customValues: yT, align: "center", verticalAlign: "bottom" },
        name: "logFC", nameLocation: "middle", nameGap: yGap,
        nameTextStyle: { fontFamily: FONT, fontSize: 6.5, color: "#444" },
      },
    );
    wedges.forEach((w) => {
      series.push({
        type: "custom", xAxisIndex: g, yAxisIndex: g, data: w, z: 2, silent: true,
        encode: { x: 0, y: 1 },
        renderItem: (p: any, api: any) => {
          if (p.dataIndex !== 0) return { type: "group", children: [] };
          const top = w.map((d) => api.coord([d[0], d[1]]));
          const bot = w.map((d) => api.coord([d[0], d[2]])).reverse();
          return { type: "polygon", shape: { points: top.concat(bot) }, style: { fill: "#000", stroke: "#000", lineWidth: 0.5 } };
        },
      });
    });
    const scat = (d: number[], color: string, z: number, size: number) =>
      series.push({
        type: "scatter", xAxisIndex: g, yAxisIndex: g, data: pairs(d), symbolSize: size, z, silent: true,
        itemStyle: { color, opacity: 1 },
      });
    scat(black, "#111", 3, 1.7);
    scat(red, "#ee2a1c", 4, 1.9);
    scat(green, "#74f53a", 4, 1.9);
    scat(blue, "#3456d8", 4, 1.5);
    series.push({
      type: "line", xAxisIndex: g, yAxisIndex: g, data: [[xr[0], 0], [xr[1], 0]], symbol: "none", z: 6, silent: true,
      lineStyle: { color: "#111", width: 1.6, type: [5, 3] },
    });
  };

  volcano({ left: 54, top: 18, width: 212.5, height: 172 }, [-0.275, 6.74], [-5.7, 5.7], xTicksA, yTicksA,
    [aWedgeUp, aWedgeDown], aBlack.concat(aBlackDense), aBlue, aRed, aGreen, 22);
  volcano({ left: 320.5, top: 18, width: 212.5, height: 172 }, [-0.22, 5.66], [-4.53, 4.53], xTicksB, yTicksB,
    [bWedgeUp, bWedgeDown], bBlack.concat(bBlackDense), bBlue, bRed, bGreen, 20);

  const panel = (
    p: any, rows: string[], cols: string[], groups: number[], vals: number[][], tree: any,
    range: number[], types: string[],
  ) => {
    const nR = rows.length;
    const dW = p.dendW;
    // dendrogram
    const gd = addGrid(
      { left: p.left - dW, top: p.top, width: dW, height: p.height },
      { type: "value", min: 0, max: dW, inverse: true, show: false },
      { type: "value", min: 0, max: nR, inverse: true, show: false },
    );
    const segs = treeSegments(tree);
    series.push({
      type: "custom", xAxisIndex: gd, yAxisIndex: gd, data: segs, silent: true, clip: false,
      encode: { x: [0, 2, 4], y: [1, 3] },
      renderItem: (_: any, api: any) => {
        const [h, y0, h0, y1, h1] = [0, 1, 2, 3, 4].map((k) => api.value(k));
        return {
          type: "polyline",
          shape: { points: [api.coord([h0, y0]), api.coord([h, y0]), api.coord([h, y1]), api.coord([h1, y1])] },
          style: { stroke: "#6e6e6e", lineWidth: 0.9, fill: "none" },
        };
      },
    });
    const cellBorder = { borderColor: "#a2a2a2", borderWidth: 0.8 };
    // annotation bar
    const ga = addGrid(
      { left: p.left, top: p.annTop, width: p.width, height: p.annH },
      { type: "category", data: cols, show: false },
      {
        type: "category", data: ["type"], position: "right", axisLine: off, axisTick: off,
        axisLabel: { fontFamily: FONT, fontSize: 6.5, fontWeight: "bold", color: "#222", margin: 2 },
      },
    );
    const annIdx = series.length;
    series.push({
      type: "heatmap", xAxisIndex: ga, yAxisIndex: ga, data: groups.map((t, i) => [i, 0, t]), silent: true,
      itemStyle: { borderColor: "#a2a2a2", borderWidth: 0.5 },
    });
    // cells
    const gh = addGrid(
      { left: p.left, top: p.top, width: p.width, height: p.height },
      {
        type: "category", data: cols, position: "bottom", axisLine: off, axisTick: off, splitArea: off,
        axisLabel: { fontFamily: FONT, fontSize: 7.3, color: "#444", rotate: -90, interval: 0, margin: 3 },
      },
      {
        type: "category", data: rows, inverse: true, position: "right", axisLine: off, axisTick: off, splitArea: off,
        axisLabel: { fontFamily: p.rowFont, fontSize: p.rowSize, color: "#333", interval: 0, margin: 2 },
      },
    );
    const hi = series.length;
    const cells: number[][] = [];
    vals.forEach((row, r) => row.forEach((v, c) => cells.push([c, r, v])));
    series.push({ type: "heatmap", xAxisIndex: gh, yAxisIndex: gh, data: cells, silent: true, itemStyle: cellBorder });
    visualMap.push({
      type: "continuous", show: true, seriesIndex: hi, dimension: 2, min: range[0], max: range[1],
      inRange: { color: heatColors }, left: p.barLeft, top: p.barTop, itemWidth: p.barW, itemHeight: p.barH,
      padding: 0, calculable: false, orient: "vertical", realtime: false, hoverLink: false,
      textStyle: { fontSize: 1, color: "transparent" },
    });
    // colour bar ticks
    addGrid(
      { left: p.barLeft, top: p.barTop, width: p.barW, height: p.barH },
      { type: "value", show: false, min: 0, max: 1 },
      {
        type: "value", min: range[0], max: range[1], position: "right", axisLine: off, axisTick: off, splitLine: off,
        axisLabel: { fontFamily: FONT, fontSize: 8, color: "#333", margin: 3, customValues: heatTicks },
      },
    );
    // legend
    const gl = addGrid(
      { left: p.legLeft, top: p.legTop, width: 10.4, height: 22 },
      { type: "category", data: ["type"], show: false },
      {
        type: "category", data: types, inverse: true, position: "right", axisLine: off, axisTick: off,
        axisLabel: { fontFamily: FONT, fontSize: 7.5, color: "#444", margin: 2, interval: 0 },
      },
    );
    const li = series.length;
    series.push({
      type: "heatmap", xAxisIndex: gl, yAxisIndex: gl, data: types.map((_, i) => [0, i, i]), silent: true,
      itemStyle: { borderColor: "#999", borderWidth: 0.6 },
    });
    visualMap.push({
      type: "piecewise", show: false, seriesIndex: [annIdx, li], dimension: 2,
      pieces: [{ value: 0, color: typeColors[0] }, { value: 1, color: typeColors[1] }],
    });
  };

  panel({ left: 40.7, top: 246.3, width: 175.3, height: 360.4, annTop: 236.7, annH: 8, dendW: 38, rowFont: NARROW, rowSize: 5.4,
    barLeft: 261, barTop: 235.7, barW: 7, barH: 112.3, legLeft: 281.7, legTop: 245 },
    cRows, cCols, cGroups, cValues, cTree, [2.2, 11], cTypes);
  panel({ left: 346, top: 248, width: 165, height: 357.3, annTop: 238, annH: 7.7, dendW: 36.5, rowFont: FONT, rowSize: 5.3,
    barLeft: 552, barTop: 237.3, barW: 6.7, barH: 111, legLeft: 571, legTop: 245.7 },
    dRows, dCols, dGroups, dValues, dTree, [2.45, 10.43], dTypes);

  const txt = (x: number, y: number, t: string, style: any) => ({
    type: "text", x, y, silent: true, style: { text: t, ...style },
  });
  const letter = { fontFamily: "'Liberation Serif', serif", fontSize: 9, fontWeight: "bold", fill: "#222", textAlign: "center", textVerticalAlign: "middle" };
  const ttl = { fontFamily: FONT, fontSize: 7, fontWeight: "bold", fill: "#333", textAlign: "center", textVerticalAlign: "middle" };
  const lg = { fontFamily: FONT, fontSize: 7, fontWeight: "bold", fill: "#333", textAlign: "left", textVerticalAlign: "middle" };
  const graphic = [
    txt(21, 5, "a", letter), txt(293, 5, "b", letter), txt(21.7, 230, "c", letter), txt(312, 229, "d", letter),
    txt(160, 5, "Volcano", ttl), txt(427, 5, "Volcano", ttl),
    txt(281, 239.5, "type", lg), txt(571, 240.8, "type", lg),
  ];

  return { animation: false, backgroundColor: "#fff", grid, xAxis, yAxis, series, visualMap, graphic };
}

export default function App() {
  const ref = useRef<HTMLDivElement>(null);
  useEffect(() => {
    const chart = echarts.init(ref.current!, undefined, { renderer: "svg" });
    chart.setOption(buildOption() as any);
    return () => chart.dispose();
  }, []);
  return <div ref={ref} style={{ position: "absolute", left: 0, top: 0, width: 597, height: 655, filter: "blur(0.3px)" }} />;
}
